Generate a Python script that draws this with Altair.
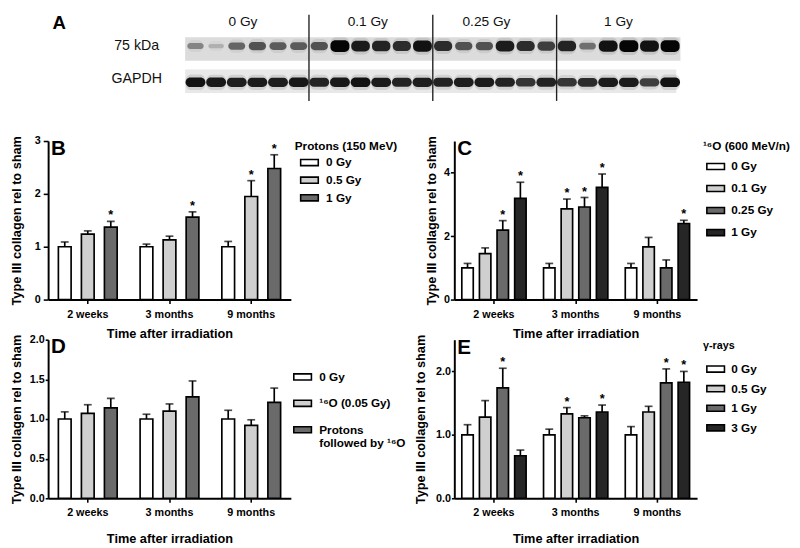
import altair as alt
import pandas as pd

FONT = "Liberation Sans"
times = ["2 weeks", "3 months", "9 months"]

# Panel B: protons
b_doses = ["0 Gy", "0.5 Gy", "1 Gy"]
b_means = [[1.00, 1.24, 1.37], [1.00, 1.13, 1.56], [1.00, 1.95, 2.48]]
b_errs = [[0.09, 0.06, 0.11], [0.05, 0.07, 0.10], [0.10, 0.30, 0.26]]
b_sig = [[0, 0, 1], [0, 0, 1], [0, 1, 1]]

# Panel C: 16O
c_doses = ["0 Gy", "0.1 Gy", "0.25 Gy", "1 Gy"]
c_means = [[1.00, 1.45, 2.19, 3.19], [1.00, 2.86, 2.92, 3.54], [1.00, 1.66, 1.00, 2.40]]
c_errs = [[0.14, 0.18, 0.30, 0.51], [0.14, 0.31, 0.30, 0.42], [0.14, 0.30, 0.25, 0.10]]
c_sig = [[0, 0, 1, 1], [0, 1, 1, 1], [0, 0, 0, 1]]

# Panel D: combined
d_groups = ["0 Gy", "¹⁶O (0.05 Gy)", "Protons|followed by ¹⁶O"]
d_means = [[1.00, 1.07, 1.14], [1.00, 1.10, 1.28], [1.00, 0.92, 1.21]]
d_errs = [[0.09, 0.11, 0.12], [0.06, 0.09, 0.20], [0.11, 0.07, 0.18]]
d_sig = [[0, 0, 0], [0, 0, 0], [0, 0, 0]]

# Panel E: gamma rays
e_doses = ["0 Gy", "0.5 Gy", "1 Gy", "3 Gy"]
e_means = [[1.00, 1.28, 1.74, 0.67], [1.00, 1.33, 1.27, 1.36], [1.00, 1.36, 1.82, 1.83]]
e_errs = [[0.16, 0.26, 0.31, 0.09], [0.09, 0.10, 0.03, 0.11], [0.13, 0.09, 0.22, 0.17]]
e_sig = [[0, 0, 1, 0], [0, 1, 0, 1], [0, 0, 1, 1]]

# Panel A: western blot band intensities (24 lanes)
blot_groups = ["0 Gy", "0.1 Gy", "0.25 Gy", "1 Gy"]
blot_rows = ["75 kDa", "GAPDH"]
col3_bands = [0.35, 0.15, 0.50, 0.60, 0.55, 0.55,
              0.60, 1.00, 0.90, 0.85, 0.80, 0.95,
              0.80, 0.60, 0.60, 0.90, 0.80, 0.70,
              0.85, 0.45, 0.95, 1.00, 0.95, 1.00]
gapdh_bands = [0.95, 0.92, 0.88, 0.90, 0.88, 0.92,
               0.85, 0.92, 0.95, 0.90, 0.85, 0.88,
               0.85, 0.88, 0.90, 0.85, 0.75, 0.85,
               0.75, 0.80, 0.90, 0.90, 0.70, 0.95]

WHITE, LIGHT, DARK, BLACK = "#ffffff", "#cfcfcf", "#6a6a6a", "#262626"
PW, PH = 248, 162

RECT = "M-1.5,-0.52H1.5V0.52H-1.5Z"


def bar_panel(doses, means, errs, sig, colors, ymax, yvals, fmt, letter, legend, ax_opts,
              x_lab_pad, x_title_pad, inner_pad, outer_pad):
    rows = []
    for ti, t in enumerate(times):
        for di, d in enumerate(doses):
            m = means[ti][di]
            rows.append(dict(time=t, dose=d, mean=m, top=m + errs[ti][di],
                             star="*" if sig[ti][di] else ""))
    df = pd.DataFrame(rows)
    x = alt.X("time:N", sort=times,
              scale=alt.Scale(domain=times, paddingInner=0.14, paddingOuter=0.055),
              axis=alt.Axis(title="Time after irradiation", labelAngle=0, tickSize=4,
                            labelPadding=x_lab_pad, titlePadding=x_title_pad, titleFontSize=13))
    xo = alt.XOffset("dose:N", sort=doses,
                     scale=alt.Scale(domain=doses, paddingInner=inner_pad, paddingOuter=outer_pad))
    y = alt.Y("mean:Q", scale=alt.Scale(domain=[0, ymax], nice=False),
              axis=alt.Axis(title="Type III collagen rel to sham", values=yvals, format=fmt,
                            titleFontSize=13, **ax_opts))
    color = alt.Color("dose:N", sort=doses, scale=alt.Scale(domain=doses, range=colors),
                      legend=legend)
    base = alt.Chart(df)
    bars = base.mark_bar(stroke="black", strokeWidth=1.7).encode(x=x, xOffset=xo, y=y, color=color)
    err = base.mark_rule(color="black", strokeWidth=1.7).encode(x=x, xOffset=xo, y="mean:Q", y2="top:Q")
    caps = base.mark_tick(color="black", thickness=1.7, size=8).encode(x=x, xOffset=xo, y="top:Q")
    stars = base.mark_text(
        fontSize=13, fontWeight="bold", baseline="alphabetic", dy=-2, color="black"
    ).encode(x=x, xOffset=xo, y="top:Q", text="star:N")
    return alt.layer(bars, err, caps, stars).properties(
        width=PW, height=PH,
        title=alt.Title(letter, anchor="start", frame="group", fontSize=21, fontWeight="bold",
                        offset=-24, dx=3, color="black"))


def make_legend(title, **kw):
    opts = dict(symbolType=RECT, symbolSize=144, symbolStrokeColor="black", symbolStrokeWidth=1.6,
                labelFontSize=12, labelFontWeight="bold", titleFontSize=12, titleFontWeight="bold",
                labelColor="black", titleColor="black", padding=0)
    opts.update(kw)
    opts["title"] = title
    return alt.Legend(**opts)


legB = make_legend("Protons (150 MeV)", orient="right", offset=4, symbolOffset=8, labelOffset=10,
                   rowPadding=4, titlePadding=3)
legC = make_legend("¹⁶O (600 MeV/n)", orient="right", offset=6, symbolOffset=6, labelOffset=9,
                   rowPadding=8.5, titlePadding=7)
legD = make_legend(None, orient="none", legendX=253, legendY=31, symbolOffset=0, labelOffset=10,
                   rowPadding=13, labelExpr="split(datum.label, '|')")
legE = make_legend("γ-rays", orient="right", offset=6, symbolOffset=6, labelOffset=9,
                   rowPadding=6, titlePadding=12, titleFontSize=11)

B = bar_panel(b_doses, b_means, b_errs, b_sig, [WHITE, LIGHT, DARK], 3, [0, 1, 2, 3], "d", "B", legB,
              dict(tickSize=5, labelPadding=3, titleX=-25), 5, 9, 0.447, 0.25)
C = bar_panel(c_doses, c_means, c_errs, c_sig, [WHITE, LIGHT, DARK, BLACK], 5, [0, 1, 2, 3, 4, 5], "d", "C", legC,
              dict(tickSize=4, labelPadding=1, titleX=-16), 5, 9, 0.35, 0.17)
D = bar_panel(d_groups, d_means, d_errs, d_sig, [WHITE, LIGHT, DARK], 2, [0, 0.5, 1.0, 1.5, 2.0], ".1f", "D", legD,
              dict(tickSize=3, labelPadding=1, titleX=-25), 5, 15, 0.447, 0.25)
E = bar_panel(e_doses, e_means, e_errs, e_sig, [WHITE, LIGHT, DARK, BLACK], 2.5, [0, 0.5, 1.0, 1.5, 2.0, 2.5], ".1f", "E", legE,
              dict(tickSize=3, labelPadding=1, titleX=-27), 5, 15, 0.35, 0.17)

# ---- Panel A (blot drawn from band intensities) ----
AH = 88
lane_x = alt.Scale(domain=[0, 24], range=[140, 646])
track_y = alt.Scale(domain=[0, AH], range=[0, AH])
row_center = {"75 kDa": 32, "GAPDH": 69}
row_label_y = {"75 kDa": 32, "GAPDH": 66}

strip_df = pd.DataFrame({"row": blot_rows,
                         "x0": [0, 0], "x1": [24, 23.8],
                         "y0": [23, 56], "y1": [47, 80],
                         "shade": ["#dcdcdc", "#e8e8e8"]})
band_rows = []
for r, vals in zip(blot_rows, [col3_bands, gapdh_bands]):
    for i, v in enumerate(vals):
        half = (1.5 + 4.5 * v) if r == "75 kDa" else (2.5 + 2.5 * v)
        wid = 0.36 + 0.1 * v if r == "75 kDa" else 0.48
        band_rows.append(dict(row=r, l0=i + 0.5 - wid, l1=i + 0.5 + wid,
                              y0=row_center[r] - half, y1=row_center[r] + half,
                              g0=row_center[r] - half - 3, g1=row_center[r] + half + 3,
                              v=v))
band_df = pd.DataFrame(band_rows)
sep_df = pd.DataFrame({"lane": [6, 12, 18], "y0": [0, 0, 0], "y1": [AH] * 3})
grp_df = pd.DataFrame({"lane": [2.8, 8.85, 14.6, 21.0], "label": blot_groups, "yy": [7] * 4})
rowlab_df = pd.DataFrame({"lane": [-2.35, -2.35], "label": blot_rows,
                          "yy": [row_label_y[r] for r in blot_rows]})
letter_df = pd.DataFrame({"lane": [-6.1], "label": ["A"], "yy": [9]})

strips = alt.Chart(strip_df).mark_rect().encode(
    x=alt.X("x0:Q", scale=lane_x, axis=None), x2="x1:Q",
    y=alt.Y("y0:Q", scale=track_y, axis=None), y2="y1:Q",
    color=alt.Color("shade:N", scale=None))
halo = alt.Chart(band_df).mark_rect(color="#666666", cornerRadius=6).encode(
    x=alt.X("l0:Q", scale=lane_x, axis=None), x2="l1:Q",
    y=alt.Y("g0:Q", scale=track_y, axis=None), y2="g1:Q",
    opacity=alt.Opacity("v:Q", scale=alt.Scale(domain=[0, 1], range=[0.03, 0.2]), legend=None))
core = alt.Chart(band_df).mark_rect(cornerRadius=5).encode(
    x=alt.X("l0:Q", scale=lane_x, axis=None), x2="l1:Q",
    y=alt.Y("y0:Q", scale=track_y, axis=None), y2="y1:Q",
    fill=alt.Fill("v:Q", scale=alt.Scale(domain=[0, 1], range=["#d2d2d2", "#050505"]), legend=None))
seps = alt.Chart(sep_df).mark_rule(color="#222222", strokeWidth=1.4).encode(
    x=alt.X("lane:Q", scale=lane_x, axis=None),
    y=alt.Y("y0:Q", scale=track_y, axis=None), y2="y1:Q")
grp_txt = alt.Chart(grp_df).mark_text(fontSize=14, fontWeight=500, color="#111").encode(
    x=alt.X("lane:Q", scale=lane_x, axis=None),
    y=alt.Y("yy:Q", scale=track_y, axis=None), text="label:N")
row_txt = alt.Chart(rowlab_df).mark_text(fontSize=14.5, fontWeight=500, color="#111").encode(
    x=alt.X("lane:Q", scale=lane_x, axis=None),
    y=alt.Y("yy:Q", scale=track_y, axis=None), text="label:N")
letter_txt = alt.Chart(letter_df).mark_text(fontSize=19, fontWeight="bold", color="black").encode(
    x=alt.X("lane:Q", scale=lane_x, axis=None),
    y=alt.Y("yy:Q", scale=track_y, axis=None), text="label:N")

A = alt.layer(strips, halo, core, seps, grp_txt, row_txt, letter_txt).resolve_scale(
    opacity="independent").properties(width=PW, height=AH)

blank = alt.Chart(pd.DataFrame({"v": [0]})).mark_point(opacity=0).encode(
    x=alt.X("v:Q", axis=None), y=alt.Y("v:Q", axis=None)).properties(width=PW, height=AH)

chart = alt.concat(A, blank, B, C, D, E, columns=2, bounds="flush",
                   spacing={"row": 41, "column": 167}).resolve_scale(
    x="independent", y="independent", xOffset="independent",
    color="independent", opacity="independent", fill="independent"
).resolve_legend(color="independent").properties(
    padding={"left": 3, "top": 0, "right": 2, "bottom": 2}
).configure(font=FONT).configure_view(stroke=None).configure_axis(
    grid=False, domainColor="black", domainWidth=2, tickColor="black", tickWidth=1.6,
    labelColor="black", titleColor="black", labelFontWeight="bold", labelFontSize=11,
    titleFontWeight="bold", labelFont=FONT, titleFont=FONT
)

chart.save("out.html", embed_options={"renderer": "svg", "actions": False})
